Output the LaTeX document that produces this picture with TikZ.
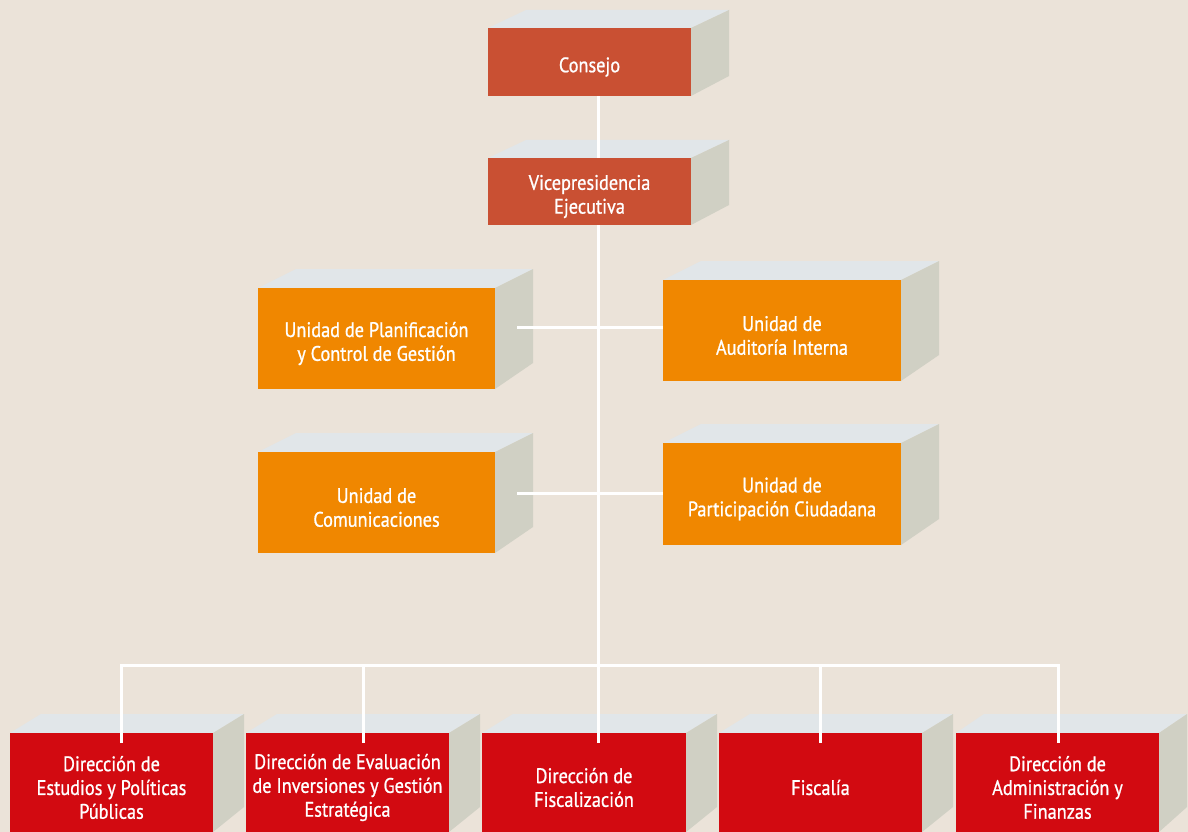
\documentclass[tikz,border=0pt]{standalone}
\usepackage{fontspec}
\setmainfont{PT Sans}[FakeStretch=0.87,FakeBold=0.9]
\definecolor{bg}{HTML}{EBE3D9}
\definecolor{ctop}{HTML}{C95033}
\definecolor{corange}{HTML}{F08700}
\definecolor{cred}{HTML}{D20A11}
\definecolor{topface}{HTML}{E1E6E9}
\definecolor{sideface}{HTML}{D0D0C4}
\newcommand\boxfaces[7]{%
  \fill[topface] (#1,#2) -- (#1+#5,#2-#6) -- (#3+#5,#2-#6) -- (#3,#2) -- cycle;
  \fill[sideface] (#3,#2) -- (#3+#5,#2-#6) -- (#3+#5,#4-#7) -- (#3,#4) -- cycle;}
\newcommand\orgbox[6]{%
  \node[frontbox, fill=#2, minimum width=#4, minimum height=#5] (#1) at #3 {};
  \node[boxtext] (#1-t) at ([yshift=-5pt]#1.center) {#6};}
\tikzset{
  frontbox/.style={inner sep=0pt},
  boxtext/.style={inner sep=0pt, align=center, text=white,
    font=\fontsize{21}{23.8}\selectfont},
  conn/.style={draw=white, line width=3pt}
}
\begin{document}
\begin{tikzpicture}[x=1pt,y=-1pt]
\fill[bg] (0,0) rectangle (1188,832);
\useasboundingbox (0,0) rectangle (1188,832);
% 3D faces
\boxfaces{488}{28}{691}{96}{38}{18}{20}
\boxfaces{488}{158}{691}{225}{38}{18}{20}
\boxfaces{258}{288}{495}{389}{38}{19}{26}
\boxfaces{663}{280}{901}{381}{38}{19}{26}
\boxfaces{258}{452}{495}{553}{38}{19}{26}
\boxfaces{663}{443}{901}{545}{38}{19}{26}
\boxfaces{10}{733}{213}{832}{31}{19}{25}
\boxfaces{246}{733}{449}{832}{31}{19}{25}
\boxfaces{482}{733}{686}{832}{31}{19}{25}
\boxfaces{719}{733}{922}{832}{31}{19}{25}
\boxfaces{956}{733}{1159}{832}{28}{19}{25}
% front faces with text
\orgbox{consejo}{ctop}{(589.5,62)}{203}{68}{Consejo}
\orgbox{vice}{ctop}{(589.5,191.5)}{203}{67}{Vicepresidencia\\Ejecutiva}
\orgbox{planif}{corange}{(376.5,338.5)}{237}{101}{Unidad de Planificación\\y Control de Gestión}
\orgbox{audit}{corange}{(782,330.5)}{238}{101}{Unidad de\\Auditoría Interna}
\orgbox{comun}{corange}{(376.5,502.5)}{237}{101}{Unidad de\\Comunicaciones}
\orgbox{partic}{corange}{(782,494)}{238}{102}{Unidad de\\Participación Ciudadana}
\orgbox{d1}{cred}{(111.5,782.5)}{203}{99}{Dirección de\\Estudios y Políticas\\Públicas}
\orgbox{d2}{cred}{(347.5,782.5)}{203}{99}{Dirección de Evaluación\\de Inversiones y Gestión\\Estratégica}
\orgbox{d3}{cred}{(584,782.5)}{204}{99}{Dirección de\\Fiscalización}
\orgbox{d4}{cred}{(820.5,782.5)}{203}{99}{Fiscalía}
\orgbox{d5}{cred}{(1057.5,782.5)}{203}{99}{Dirección de\\Administración y\\Finanzas}
% connector coordinates
\coordinate (bus) at (598,665);
\coordinate (p1) at (517,327);
\coordinate (p2) at (517,493);
\coordinate (t1) at (121,665);
\coordinate (t2) at (363,665);
\coordinate (t5) at (1058,665);
% connectors
\draw[conn] (consejo.south -| bus) -- (vice.north -| bus);
\draw[conn] (vice.south -| bus) -- (bus);
\draw[conn] (p1) -- (p1 -| audit.west);
\draw[conn] (p2) -- (p2 -| partic.west);
\draw[conn, line cap=rect] (t1) -- (t5);
\draw[conn] (t1) -- ([yshift=-10pt]t1 |- d1.north);
\draw[conn] (t2) -- ([yshift=-10pt]t2 |- d2.north);
\draw[conn] (bus) -- ([yshift=-10pt]bus |- d3.north);
\draw[conn] (bus -| d4.north) -- ([yshift=-10pt]d4.north);
\draw[conn] (t5) -- ([yshift=-10pt]t5 |- d5.north);
\end{tikzpicture}
\end{document}
